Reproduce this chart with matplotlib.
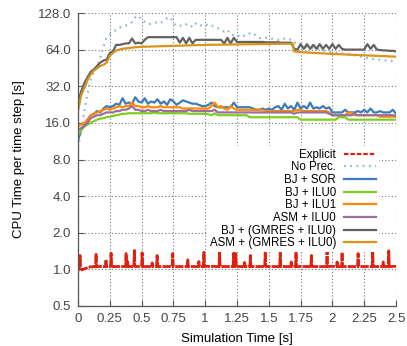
import matplotlib
matplotlib.use("Agg")
import matplotlib.pyplot as plt
from matplotlib.lines import Line2D
from matplotlib.ticker import FixedLocator, FixedFormatter, NullLocator
import numpy as np

plt.rcParams['font.family'] = ['Liberation Sans', 'DejaVu Sans']
plt.rcParams['font.size'] = 9.5

# time grid shared by most series (s)
t = np.linspace(0, 2.5, 101)

# Explicit: baseline plus periodic spikes
expl_base_t = [0.0, 0.03, 0.06, 0.1, 0.5, 1.0, 1.5, 2.0, 2.5]
expl_base_v = [0.97, 0.99, 1.02, 1.05, 1.06, 1.06, 1.055, 1.06, 1.06]
spike_t = [0.016, 0.142, 0.22, 0.26, 0.378, 0.39, 0.443, 0.504, 0.583, 0.622,
           0.745, 0.863, 0.95, 0.99, 1.113, 1.223, 1.24, 1.31, 1.355, 1.472,
           1.59, 1.677, 1.714, 1.835, 1.958, 2.037, 2.076, 2.202, 2.317, 2.4, 2.443]
spike_v = [1.30, 1.33, 1.20, 1.36, 1.35, 1.16, 1.43, 1.37, 1.13, 1.30,
           1.35, 1.20, 1.16, 1.38, 1.38, 1.36, 1.35, 1.14, 1.30, 1.43,
           1.37, 1.15, 1.40, 1.30, 1.42, 1.15, 1.38, 1.35, 1.38, 1.15, 1.42]
spike_base = 1.055

no_prec = [10, 14, 20, 28, 36, 42, 46, 55, 68, 80,
           85, 89, 93, 97, 99, 101, 103, 108, 118, 122,
           112, 108, 104, 104, 106, 108, 106, 110, 116, 118,
           106, 100, 101, 100, 103, 104, 98, 105, 100, 102,
           104, 100, 101, 99, 96, 92, 90, 93, 85, 84,
           85, 81, 83, 83, 87, 88, 83, 80, 79, 80,
           78, 79, 78, 77, 78, 79, 77, 78, 74, 70,
           68, 67, 67, 66, 66, 65, 65, 63, 62, 61.5,
           61, 60.5, 60, 59.5, 59, 58.5, 58, 57.5, 57, 56,
           55, 54.5, 54, 53.5, 53, 53, 52.5, 52, 52, 51.5,
           51]

bj_sor = [11.5, 14, 15.5, 17, 18.5, 19, 20, 19.5, 21, 22,
          21.5, 22, 23, 22.5, 25.5, 23, 23.5, 23, 26, 24,
          23.5, 25.5, 23, 24, 23.5, 25, 23, 24, 22.5, 25,
          24, 22.5, 23.5, 24.5, 24, 23.5, 23, 23, 22.5, 22,
          22, 22.5, 23.5, 22, 21.5, 21.5, 21.5, 21.5, 21.5, 23.5,
          21.5, 21.5, 21.5, 21.5, 21.5, 21, 20.5, 20.5, 21, 20.5,
          21, 20.5, 21.5, 22, 20.5, 23, 21, 22, 20.5, 23.5,
          21, 22, 21, 23.5, 21, 21.5, 21, 22, 21, 21.5,
          19.5, 19.5, 19.5, 19.5, 20.5, 19.5, 19.5, 19.5, 20, 19.5,
          20.5, 19.5, 21, 19.5, 19.5, 20, 19.5, 19.5, 19.5, 20.5,
          19]

bj_ilu0 = [12.5, 14, 15, 15.5, 16, 16.5, 17, 17.3, 17.5, 17.8,
           18, 18.2, 18.5, 18.7, 19, 19, 19.2, 19.2, 19.2, 19.2,
           19.2, 19.2, 19.2, 19.2, 19.5, 19.2, 19.2, 19.2, 19.2, 19.2,
           19.2, 19.2, 19.2, 19.2, 19.2, 19, 19, 19, 19, 19,
           19, 18.8, 18.5, 19.2, 18.5, 18.5, 18.5, 18.5, 18.5, 18.5,
           18.5, 18.5, 18.5, 18.5, 17.8, 17.8, 17.8, 17.8, 17.8, 17.8,
           17.8, 17.8, 17.8, 17.8, 17.8, 17.8, 17.8, 17.8, 17.8, 17.8,
           17, 17, 17, 17, 17, 17, 17, 17, 17, 17,
           17, 17, 17.8, 17.8, 17.8, 17, 17, 17, 17, 17,
           17, 17, 17, 17, 17, 17, 17, 17, 17, 17,
           17]

bj_ilu1 = [15, 15.5, 16, 17, 18.5, 19, 19.5, 20, 20.5, 21,
           20.5, 21, 21.5, 22, 21.5, 22, 22, 23.5, 22, 22,
           21.5, 21.5, 22, 21.5, 21.5, 21.5, 22, 21.5, 21.5, 21.5,
           21.5, 21.5, 21.5, 21, 21, 21, 21, 21, 21, 21,
           21, 21, 22, 23.5, 21.5, 22, 21, 20.5, 22, 21,
           20.5, 20.5, 20.5, 20.5, 20.5, 20.5, 20.5, 20.5, 20.5, 20,
           20, 20, 20, 20, 20, 20, 20, 20, 20, 20.5,
           20.5, 20, 20, 20, 20, 20, 20, 20, 20, 19.5,
           18.5, 18.5, 18.5, 18.5, 18.5, 19.5, 19.5, 18.5, 18.5, 18.5,
           18.5, 18.5, 18.5, 18.5, 18.5, 18, 18, 18, 18, 18,
           18]

asm_ilu0 = [14, 14.5, 15, 16, 17.5, 18, 18.5, 18.5, 19, 19.5,
            19.5, 19.5, 20, 20, 20.5, 20.5, 21, 22, 20.5, 20.5,
            20, 20, 20.5, 20, 20, 20, 20.5, 20, 20, 20,
            20, 20, 20, 20, 20, 20.5, 20, 20, 20, 20,
            20, 20, 20, 20.5, 19.5, 19.5, 19.5, 19.5, 19.5, 19.5,
            19.5, 19.5, 19.5, 19.5, 19.5, 19.5, 19.5, 19.5, 19.5, 19.5,
            19.5, 19.5, 19.5, 19.5, 19.5, 19.5, 19.5, 19.5, 19, 19.5,
            19.5, 19.5, 19.5, 19.5, 19.5, 19.5, 19.5, 19.5, 19.5, 19,
            18.5, 18.5, 18.5, 18.5, 18.5, 18.5, 18.5, 19, 18.5, 18.5,
            18.5, 18.5, 18.5, 18.5, 18.5, 18.5, 18.5, 18.5, 18.5, 18.5,
            18.2]

bj_gmres = [24, 29, 34, 38, 42, 44, 47, 50, 52, 53,
            60, 62, 70, 70, 71, 72, 72, 79, 72, 73,
            72, 77, 81, 81, 81, 81, 81, 81, 81, 81,
            81, 81, 73, 80, 72, 80, 72, 77,
            77, 77, 77, 77, 77, 77, 77, 77,
            72, 80, 72, 80, 74,
            74, 74, 74, 74, 74, 74, 74, 74, 73.5, 73.5, 73.5, 73.5, 73.5, 73, 73, 73, 73,
            65, 64, 71, 65, 71, 65, 70, 65, 71, 65, 70, 65, 71, 65, 70, 65,
            64, 64, 64, 64, 64, 64, 64, 71, 65, 70, 64, 63.5, 63, 63, 62.5, 62.5, 62]

asm_gmres_t = [0, .025, .05, .075, .1, .125, .15, .175, .2, .225, .25, .275, .3, .325,
               .35, .375, .4, .45, .5, .6, .7, .8, .9, 1.0, 1.2, 1.4, 1.6, 1.69, 1.7,
               1.75, 2.0, 2.25, 2.5]
asm_gmres = [20, 27, 31, 36, 40, 43, 45, 47, 48, 50, 57, 60, 63, 64,
             65, 65.5, 66, 67, 67.5, 68, 68.5, 69, 69.5, 70, 70.5, 71, 71.5, 71.5, 62,
             61, 59, 57.5, 56]

# build explicit series: baseline points plus narrow spikes
pts = list(zip(expl_base_t, expl_base_v))
for st, sv in zip(spike_t, spike_v):
    pts += [(st - 0.004, spike_base), (st, sv), (st + 0.004, spike_base)]
pts.sort()
expl_t = [p[0] for p in pts]
expl_v = [p[1] for p in pts]

fig = plt.figure(figsize=(4.07, 3.46), dpi=100)
ax = fig.add_axes([78/407, 40/346, 318/407, 293/346])

lw = 1.6
red = '#e0200f'
ax.plot(expl_t, expl_v, color=red, lw=2.0, dashes=(3, 0.4))
ax.plot(t, no_prec, color='#8db9e3', lw=lw, dashes=(0.8, 2.0), label='No Prec.')
ax.plot(t, bj_sor, color='#3d7ab8', lw=lw, label='BJ + SOR')
ax.plot(t, bj_ilu0, color='#7ccf1f', lw=lw, label='BJ + ILU0')
ax.plot(t, bj_ilu1, color='#ff8a00', lw=lw, label='BJ + ILU1')
ax.plot(t, asm_ilu0, color='#9a6fa0', lw=lw, label='ASM + ILU0')
ax.plot(t, bj_gmres, color='#626262', lw=lw, label='BJ + (GMRES + ILU0)')
ax.plot(asm_gmres_t, asm_gmres, color='#d9951a', lw=lw, label='ASM + (GMRES + ILU0)')

ax.set_yscale('log', base=2)
ax.set_ylim(0.5, 128)
ax.set_xlim(0, 2.5)

yt = [0.5, 1, 2, 4, 8, 16, 32, 64, 128]
ax.yaxis.set_major_locator(FixedLocator(yt))
ax.yaxis.set_major_formatter(FixedFormatter(['%.1f' % v for v in yt]))
ax.yaxis.set_minor_locator(NullLocator())
xt = [0, 0.25, 0.5, 0.75, 1, 1.25, 1.5, 1.75, 2, 2.25, 2.5]
ax.set_xticks(xt)
ax.set_xticklabels(['0', '0.25', '0.5', '0.75', '1', '1.25', '1.5', '1.75', '2', '2.25', '2.5'])

ax.tick_params(direction='in', length=4, width=0.8, color='#555555',
               labelcolor='#444444', pad=5)
ax.grid(True, color='#777777', linestyle=(0, (1, 2)), linewidth=0.8)
ax.spines['top'].set_visible(False)
ax.spines['right'].set_visible(False)
for s in ['left', 'bottom']:
    ax.spines[s].set_color('#555555')
    ax.spines[s].set_linewidth(0.9)

ax.set_xlabel('Simulation Time [s]', labelpad=6)
ax.set_ylabel('CPU Time per time step [s]', labelpad=9)

handles, labels = ax.get_legend_handles_labels()
handles = [Line2D([], [], color=red, lw=lw, dashes=(2, 0.9))] + handles
labels = ['Explicit'] + labels
leg = ax.legend(handles, labels, loc='upper right',
                bbox_to_anchor=(385/407, 1 - 140/346),
                bbox_transform=fig.transFigure, markerfirst=False,
                frameon=True, fancybox=False, handlelength=2.8,
                labelspacing=0.06, borderpad=0.25, handletextpad=0.7,
                fontsize=8.3)
leg.get_frame().set_facecolor('white')
leg.get_frame().set_edgecolor('none')
leg.get_frame().set_alpha(1)
for txt in leg.get_texts():
    txt.set_ha('right')
leg._legend_box.align = 'right'

fig.savefig('out.png', dpi=100)
